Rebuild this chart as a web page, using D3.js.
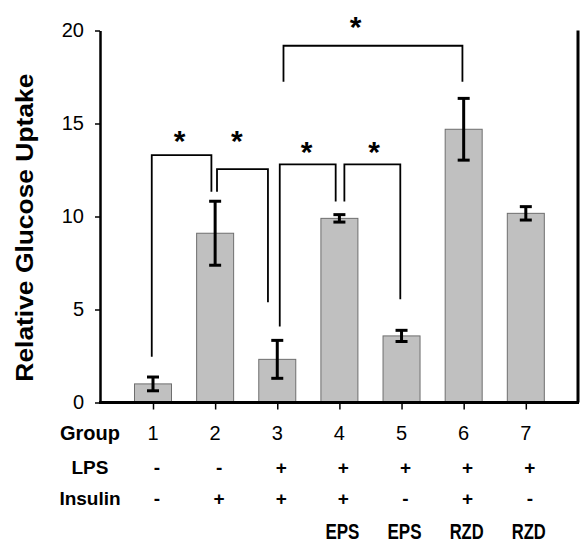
<!DOCTYPE html>
<html><head><meta charset="utf-8">
<script src="https://cdn.jsdelivr.net/npm/d3@7"></script>
<style>body{margin:0;background:#fff}svg{display:block}text{font-family:"Liberation Sans",Arial,sans-serif}</style>
</head><body>
<svg id="c" width="581" height="551"></svg>
<script>
const groups = [1, 2, 3, 4, 5, 6, 7];
const values = [1.0, 9.1, 2.32, 9.9, 3.58, 14.69, 10.17];
const errors = [0.37, 1.72, 1.02, 0.2, 0.3, 1.66, 0.36];
const yTicks = [0, 5, 10, 15, 20];
const lpsRow = ["-", "-", "+", "+", "+", "+", "+"];
const insulinRow = ["-", "+", "+", "+", "-", "+", "-"];
const treatRow = ["", "", "", "EPS", "EPS", "RZD", "RZD"];
const rowLabels = ["Group", "LPS", "Insulin"];
// significance brackets: [leftX, rightX] in group units, top, left leg end, right leg end, star y (data units)
const brackets = [
  {x0: 0.98, x1: 1.94, top: 13.3, y0: 2.46, y1: 11.33, star: 14.44, sx: 1.43},
  {x0: 2.03, x1: 2.85, top: 12.55, y0: 11.33, y1: 5.39, star: 14.44, sx: 2.35},
  {x0: 3.04, x1: 3.94, top: 12.8, y0: 4.08, y1: 10.8, star: 13.84, sx: 3.47},
  {x0: 4.08, x1: 4.98, top: 12.8, y0: 10.8, y1: 5.55, star: 13.84, sx: 4.56},
  {x0: 3.1, x1: 5.98, top: 19.18, y0: 17.25, y1: 17.25, star: 20.54, sx: 4.26}
];

const svg = d3.select("#c");
const x = d3.scaleLinear().domain([0.147, 7.84]).range([100, 578]);
const y = d3.scaleLinear().domain([0, 20]).range([402.5, 30.5]);
const barW = 37;

// bars
svg.selectAll("rect.bar").data(groups).join("rect")
  .attr("x", d => x(d) - barW / 2)
  .attr("y", (d, i) => y(values[i]))
  .attr("width", barW)
  .attr("height", (d, i) => y(0) - y(values[i]))
  .attr("fill", "#c0c0c0").attr("stroke", "#6e6e6e").attr("stroke-width", 1);

// error bars
const eb = svg.append("g").attr("stroke", "#000").attr("stroke-width", 3);
groups.forEach((g, i) => {
  const cx = x(g), hi = y(values[i] + errors[i]), lo = y(values[i] - errors[i]);
  eb.append("line").attr("x1", cx).attr("x2", cx).attr("y1", hi).attr("y2", lo);
  eb.append("line").attr("x1", cx - 6).attr("x2", cx + 6).attr("y1", hi).attr("y2", hi);
  eb.append("line").attr("x1", cx - 6).attr("x2", cx + 6).attr("y1", lo).attr("y2", lo);
});

// y axis
const ya = svg.append("g").attr("transform", "translate(100,0)")
  .call(d3.axisLeft(y).tickValues(yTicks).tickSize(5).tickSizeOuter(0).tickPadding(11));
ya.select(".domain").attr("stroke", "#000").attr("stroke-width", 2.5);
ya.selectAll(".tick line").attr("stroke", "#000").attr("stroke-width", 1.5);
ya.selectAll(".tick text").attr("font-size", 20).attr("fill", "#000")
  .style("font-family", '"Liberation Sans",Arial,sans-serif');

// x axis (ticks only)
const xa = svg.append("g").attr("transform", "translate(0,402.5)")
  .call(d3.axisBottom(x).tickValues(groups).tickSize(7).tickSizeOuter(0).tickFormat(""));
xa.select(".domain").remove();
xa.selectAll(".tick line").attr("stroke", "#000").attr("stroke-width", 1.5);
svg.append("line").attr("x1", 99).attr("x2", 579).attr("y1", 402.5).attr("y2", 402.5)
  .attr("stroke", "#000").attr("stroke-width", 3);
svg.append("line").attr("x1", 578).attr("x2", 578).attr("y1", y(20)).attr("y2", 402.5)
  .attr("stroke", "#000").attr("stroke-width", 3);

// y axis title
svg.append("text").attr("transform", "translate(33," + y(9.4) + ") rotate(-90)")
  .attr("text-anchor", "middle").attr("font-weight", "bold").attr("font-size", 23)
  .attr("textLength", 308).attr("lengthAdjust", "spacingAndGlyphs")
  .text("Relative Glucose Uptake");

// table under the axis
const rowY = [440, 474, 505];
const rowFs = [20, 19, 19];
rowLabels.forEach((t, i) => {
  svg.append("text").attr("x", 90).attr("y", rowY[i]).attr("text-anchor", "middle")
    .attr("font-weight", "bold").attr("font-size", rowFs[i]).text(t);
});
svg.selectAll("text.grp").data(groups).join("text").attr("class", "grp")
  .attr("x", d => x(d)).attr("y", rowY[0]).attr("text-anchor", "middle")
  .attr("font-size", 20).text(d => d);
svg.selectAll("text.lps").data(lpsRow).join("text").attr("class", "lps")
  .attr("x", (d, i) => x(groups[i]) + 4).attr("y", rowY[1]).attr("text-anchor", "middle")
  .attr("font-weight", "bold").attr("font-size", 19).text(d => d);
svg.selectAll("text.ins").data(insulinRow).join("text").attr("class", "ins")
  .attr("x", (d, i) => x(groups[i]) + 4).attr("y", rowY[2]).attr("text-anchor", "middle")
  .attr("font-weight", "bold").attr("font-size", 19).text(d => d);
svg.selectAll("text.trt").data(treatRow).join("text").attr("class", "trt")
  .attr("x", (d, i) => x(groups[i]) + 3).attr("y", 539).attr("text-anchor", "middle")
  .attr("font-weight", "bold").attr("font-size", 22)
  .attr("textLength", d => d ? 34 : null).attr("lengthAdjust", "spacingAndGlyphs")
  .text(d => d);

// significance brackets
const bg = svg.append("g").attr("fill", "none").attr("stroke", "#000").attr("stroke-width", 1.8);
brackets.forEach(b => {
  bg.append("path").attr("d",
    `M${x(b.x0)},${y(b.y0)}V${y(b.top)}H${x(b.x1)}V${y(b.y1)}`);
  const fs = 30;
  svg.append("text").attr("x", x(b.sx)).attr("y", y(b.star) + 0.56 * fs)
    .attr("text-anchor", "middle").attr("font-weight", "bold").attr("font-size", fs).text("*");
});
</script>
</body></html>
